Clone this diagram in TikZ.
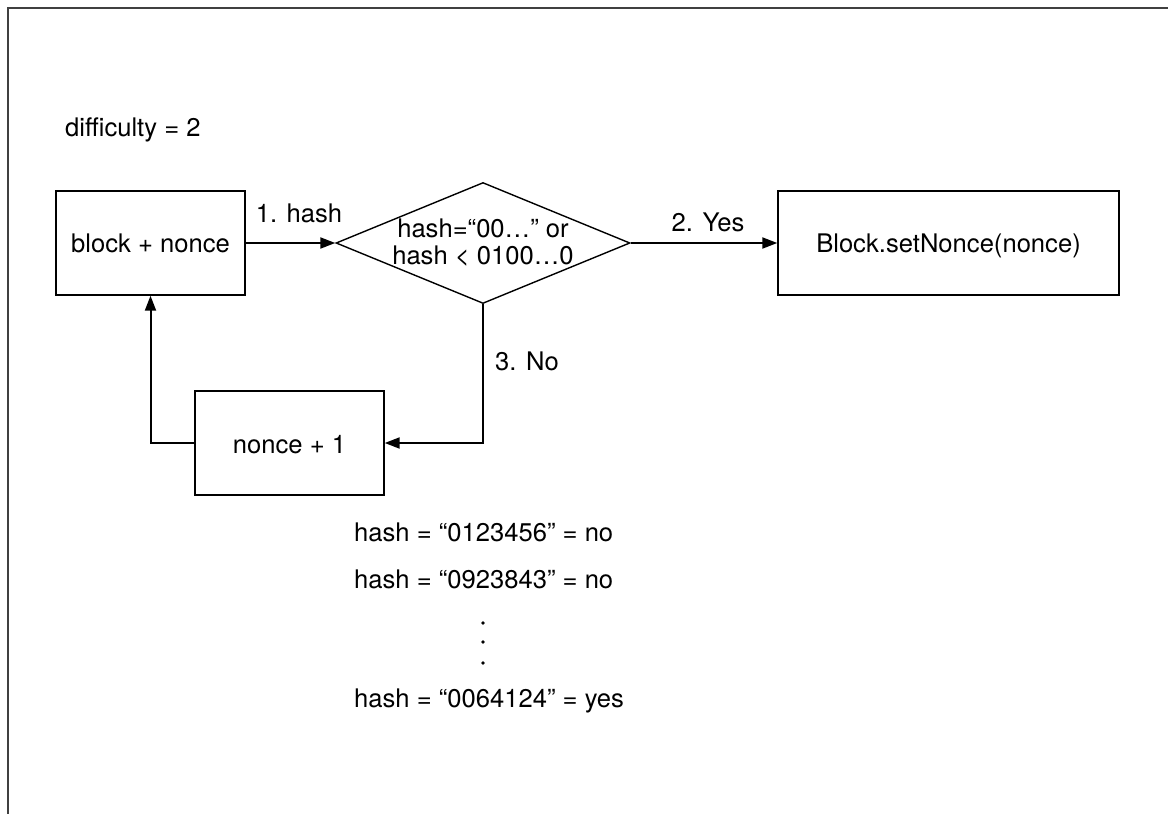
\documentclass[tikz,border=0pt]{standalone}
\usepackage{fontspec}
\setmainfont{TeX Gyre Heros}
\usetikzlibrary{shapes.geometric,arrows.meta}
\begin{document}
\begin{tikzpicture}[x=1pt,y=-1pt,
  txt/.style={font=\fontsize{25.6}{26}\selectfont, inner sep=0pt},
  boxnode/.style={draw, line width=1.4pt, inner sep=0pt},
  dianode/.style={draw, diamond, line width=1.4pt, inner sep=0pt, minimum width=294pt, minimum height=121pt},
  conn/.style={line width=2pt, -{Triangle[length=15pt,width=11pt]}},
  framel/.style={draw=black!75, line width=2pt}
]
\useasboundingbox (0,0) rectangle (1168,814);
% frame
\coordinate (fr1) at (1168,8);
\coordinate (fr2) at (8,8);
\coordinate (fr3) at (8,814);
\draw[framel] (fr1) -- (fr2) -- (fr3);

\node[txt, anchor=base west] (diff) at (65,136) {difficulty = 2};

\node[boxnode, minimum width=189pt, minimum height=104pt] (block) at (150.5,243) {};
\node[txt, anchor=base] (blocktxt) at (150.5,252) {block + nonce};

\node[dianode] (dia) at (483,243) {};
\node[txt, anchor=base] (dia1) at (483,237) {hash=“00…” or};
\node[txt, anchor=base] (dia2) at (483,264) {hash < 0100…0};

\node[boxnode, minimum width=341pt, minimum height=104pt] (setn) at (948.5,243) {};
\node[txt, anchor=base] (setntxt) at (948.5,252) {Block.setNonce(nonce)};

\node[boxnode, minimum width=189pt, minimum height=104pt] (inc) at (289.5,443) {};
\node[txt, anchor=base] (inctxt) at (289.5,453) {nonce + 1};

\draw[conn] (block.east) -- (dia.west);
\draw[conn] (dia.east) -- (setn.west);
\draw[conn] (dia.south) |- (inc.east);
\draw[conn] (inc.west) -| (block.south);

\node[txt, anchor=base] (l1) at (299,222) {1. hash};
\node[txt, anchor=base] (l2) at (708,231) {2. Yes};
\node[txt, anchor=base west] (l3) at (495,370) {3. No};

\node[txt, anchor=base west] (h1) at (354,541) {hash = “0123456” = no};
\node[txt, anchor=base west] (h2) at (354,588) {hash = “0923843” = no};
\fill (483,623) circle (1.9);
\fill (483,642) circle (1.9);
\fill (483,663) circle (1.9);
\node[txt, anchor=base west] (h3) at (354,707) {hash = “0064124” = yes};
\end{tikzpicture}
\end{document}
